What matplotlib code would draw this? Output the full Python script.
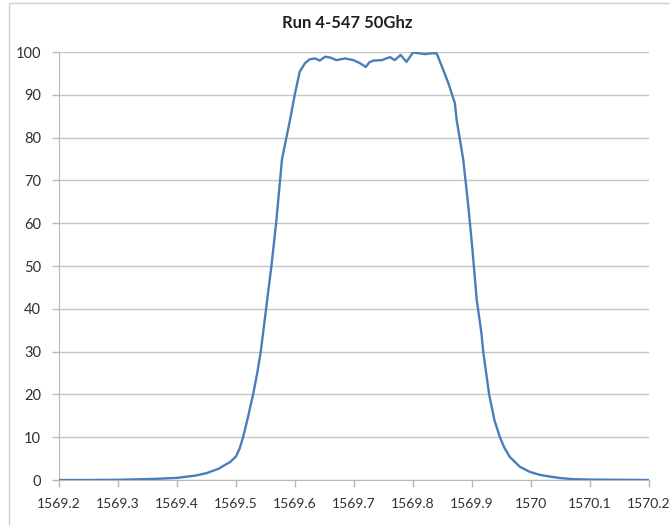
import matplotlib.pyplot as plt
from matplotlib.patches import Rectangle

plt.rcParams['font.family'] = ['Lato', 'DejaVu Sans']

# ========== data ==========
wavelength = [1569.20, 1569.25, 1569.30, 1569.33, 1569.36, 1569.40, 1569.43,
              1569.45, 1569.47, 1569.49, 1569.50, 1569.506, 1569.512, 1569.520,
              1569.529, 1569.536, 1569.542, 1569.551, 1569.560, 1569.568,
              1569.578, 1569.5915, 1569.600, 1569.608, 1569.617, 1569.625,
              1569.634, 1569.642, 1569.651, 1569.660, 1569.670, 1569.685,
              1569.699, 1569.710, 1569.720, 1569.726, 1569.733, 1569.747,
              1569.761, 1569.769, 1569.779, 1569.789, 1569.800, 1569.810,
              1569.820, 1569.832, 1569.840, 1569.849, 1569.860, 1569.871,
              1569.874, 1569.885, 1569.893, 1569.900, 1569.908, 1569.916,
              1569.919, 1569.929, 1569.938, 1569.947, 1569.955, 1569.964,
              1569.981, 1569.998, 1570.015, 1570.032, 1570.050, 1570.071,
              1570.10, 1570.15, 1570.20]
transmission = [0.0, 0.0, 0.05, 0.15, 0.25, 0.5, 1.0,
                1.6, 2.6, 4.2, 5.5, 7.3, 10.0, 14.5,
                20.0, 25.0, 30.0, 40.0, 50.0, 60.0,
                75.0, 84.1, 90.3, 95.4, 97.4, 98.3,
                98.5, 98.0, 98.9, 98.7, 98.1, 98.5,
                98.1, 97.4, 96.5, 97.6, 98.0, 98.1,
                98.8, 98.1, 99.3, 97.7, 99.9, 99.7,
                99.5, 99.7, 99.7, 96.6, 92.7, 88.0,
                84.1, 75.0, 65.0, 55.0, 42.1, 34.3,
                30.0, 20.0, 14.0, 10.1, 7.5, 5.4,
                3.1, 1.9, 1.2, 0.8, 0.45, 0.2,
                0.1, 0.05, 0.0]

xticks = [1569.2, 1569.3, 1569.4, 1569.5, 1569.6, 1569.7, 1569.8, 1569.9,
          1570.0, 1570.1, 1570.2]
xtick_labels = ['1569.2', '1569.3', '1569.4', '1569.5', '1569.6', '1569.7',
                '1569.8', '1569.9', '1570', '1570.1', '1570.2']
yticks = [0, 10, 20, 30, 40, 50, 60, 70, 80, 90, 100]

# ========== plot ==========
fig = plt.figure(figsize=(6.7, 5.26), dpi=100)
ax = fig.add_axes([59 / 670, 1 - 480 / 526, 590 / 670, 428 / 526])

# chart-area border like the spreadsheet frame
fig.patches.append(Rectangle((9 / 670, -0.1), 1.2, 1 - 3 / 526 + 0.1,
                             transform=fig.transFigure, fill=False,
                             edgecolor='#d0d0d0', linewidth=1.0))

ax.plot(wavelength, transmission, color='#4a7ebb', linewidth=1.7, zorder=3)

ax.set_xlim(1569.2, 1570.2)
ax.set_ylim(0, 100)
ax.set_xticks(xticks)
ax.set_xticklabels(xtick_labels)
ax.set_yticks(yticks)

ax.grid(axis='y', color='#c6c6c6', linewidth=1.0)
ax.set_axisbelow(True)
for side in ['top', 'right']:
    ax.spines[side].set_visible(False)
ax.spines['left'].set_color('#b8b8b8')
ax.spines['bottom'].set_color('#b8b8b8')
ax.tick_params(axis='both', colors='#b8b8b8', length=5, width=1.0,
               labelcolor='#303030', labelsize=10)
ax.tick_params(axis='y', pad=8, labelsize=10.5)
ax.tick_params(axis='x', pad=8)

fig.text(347 / 670, 1 - 23 / 526, 'Run 4-547 50Ghz', ha='center', va='center',
         fontsize=12, fontweight='bold', color='#202020')

fig.savefig('out.png', dpi=100)
